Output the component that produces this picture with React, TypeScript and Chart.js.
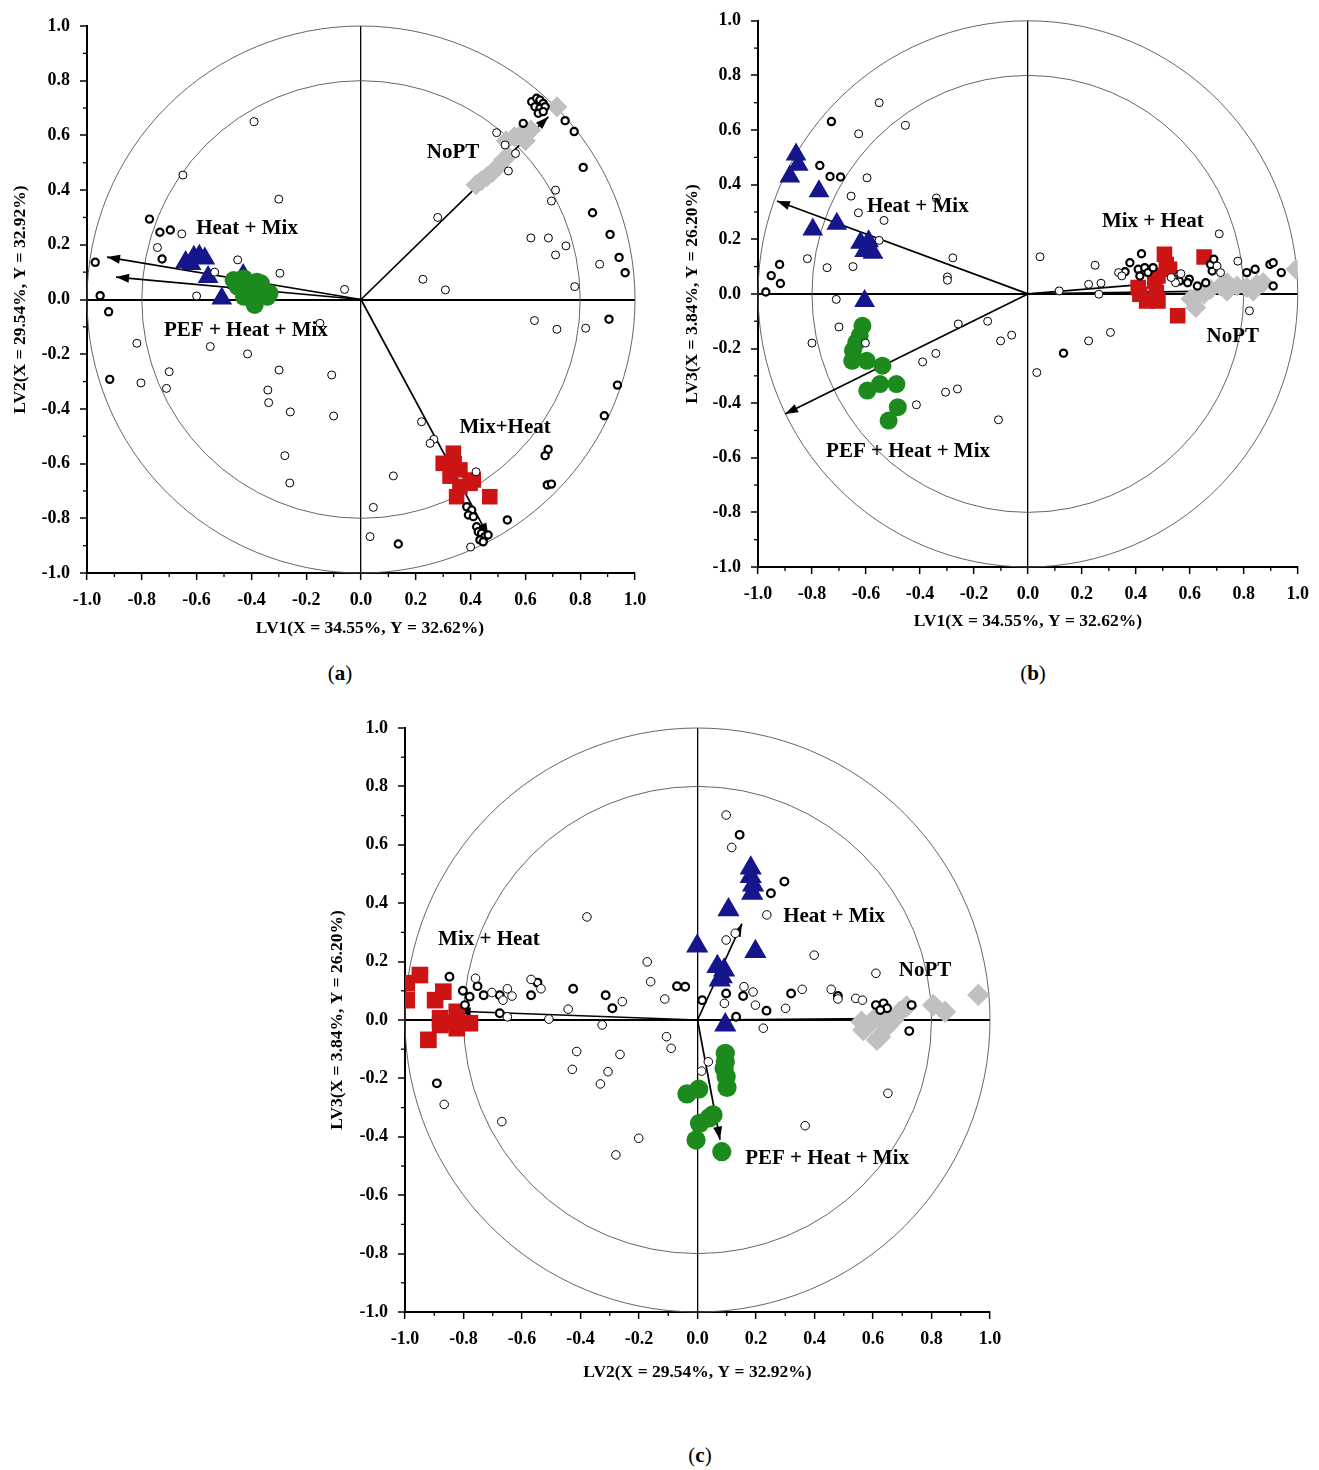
import React, { useEffect, useRef } from 'react';
import { Chart, registerables } from 'chart.js';

Chart.register(...registerables);

type P = [number, number];
type Lbl = [string, number, number];

const FONT = '"Liberation Serif", "Times New Roman", serif';

// ---------- Panel (a): LV1 vs LV2 ----------
const A_OPEN: P[] = [[-0.39,0.65],[-0.65,0.455],[-0.30,0.367],[-0.654,0.24],[-0.743,0.19],[-0.45,0.145],[-0.534,0.10],[-0.296,0.096],[-0.06,0.037],[-0.60,0.013],[0.28,0.30],[0.226,0.074],[0.308,0.035],[0.495,0.61],[0.526,0.565],[0.564,0.534],[0.538,0.47],[0.71,0.40],[0.695,0.36],[0.62,0.225],[0.684,0.225],[0.748,0.196],[0.71,0.163],[0.871,0.129],[0.78,0.047],[0.633,-0.077],[0.715,-0.109],[0.82,-0.105],[-0.15,-0.087],[-0.818,-0.16],[-0.55,-0.172],[-0.414,-0.199],[-0.70,-0.264],[-0.803,-0.305],[-0.71,-0.325],[-0.299,-0.258],[-0.107,-0.276],[-0.34,-0.331],[-0.337,-0.377],[-0.258,-0.411],[-0.10,-0.426],[-0.278,-0.571],[-0.26,-0.671],[0.221,-0.447],[0.266,-0.511],[0.252,-0.526],[0.118,-0.645],[0.42,-0.63],[0.045,-0.76],[0.033,-0.867],[0.40,-0.905]];
const A_BOLD: P[] = [[-0.772,0.294],[-0.734,0.246],[-0.696,0.254],[-0.726,0.148],[-0.97,0.136],[-0.952,0.014],[-0.921,-0.045],[-0.917,-0.292],[0.623,0.723],[0.641,0.736],[0.653,0.729],[0.665,0.717],[0.635,0.705],[0.653,0.699],[0.672,0.705],[0.647,0.681],[0.665,0.687],[0.592,0.644],[0.745,0.654],[0.778,0.614],[0.811,0.483],[0.845,0.317],[0.909,0.238],[0.942,0.154],[0.964,0.098],[0.905,-0.072],[0.936,-0.313],[0.888,-0.425],[0.683,-0.548],[0.672,-0.571],[0.68,-0.678],[0.695,-0.675],[0.534,-0.806],[0.136,-0.894],[0.386,-0.758],[0.404,-0.77],[0.392,-0.788],[0.41,-0.794],[0.422,-0.831],[0.428,-0.849],[0.44,-0.855],[0.452,-0.867],[0.464,-0.861],[0.434,-0.879],[0.446,-0.886]];
const A_HEATMIX: P[] = [[-0.64,0.137],[-0.61,0.156],[-0.59,0.16],[-0.57,0.15],[-0.62,0.13],[-0.558,0.082],[-0.508,0.004],[-0.43,0.09],[-0.45,0.06]];
const A_PEF: P[] = [[-0.465,0.071],[-0.427,0.077],[-0.38,0.065],[-0.365,0.059],[-0.398,0.023],[-0.357,0.035],[-0.342,0.01],[-0.388,-0.02],[-0.427,0.01],[-0.45,0.047],[-0.334,0.023],[-0.40,0.045]];
const A_NOPT: P[] = [[0.42,0.42],[0.44,0.435],[0.46,0.45],[0.48,0.465],[0.50,0.485],[0.52,0.51],[0.535,0.525],[0.53,0.58],[0.56,0.595],[0.58,0.60],[0.60,0.615],[0.62,0.62],[0.60,0.58],[0.715,0.705]];
const A_MIXHEAT: P[] = [[0.337,-0.562],[0.30,-0.599],[0.361,-0.623],[0.325,-0.646],[0.398,-0.672],[0.361,-0.684],[0.349,-0.721],[0.41,-0.66],[0.47,-0.721],[0.34,-0.60]];
const A_ARROWS: P[] = [[-0.927,0.155],[-0.894,0.082],[0.684,0.668],[0.465,-0.865]];
const A_LABELS: Lbl[] = [['Heat + Mix',-0.416,0.261],['NoPT',0.336,0.539],['PEF + Heat + Mix',-0.42,-0.115],['Mix+Heat',0.526,-0.47]];

// ---------- Panel (b): LV1 vs LV3 ----------
const B_OPEN: P[] = [[-0.551,0.70],[-0.454,0.617],[-0.627,0.586],[-0.596,0.425],[-0.655,0.358],[-0.628,0.297],[-0.533,0.269],[-0.339,0.351],[-0.551,0.196],[-0.817,0.129],[-0.744,0.096],[-0.648,0.10],[-0.278,0.132],[-0.298,0.062],[-0.298,0.05],[-0.71,-0.02],[-0.70,-0.121],[-0.80,-0.18],[-0.602,-0.18],[-0.258,-0.11],[-0.149,-0.10],[-0.101,-0.172],[-0.06,-0.151],[-0.341,-0.218],[-0.39,-0.249],[-0.305,-0.36],[-0.261,-0.348],[-0.413,-0.406],[-0.109,-0.461],[0.033,-0.288],[0.225,-0.172],[0.306,-0.141],[0.045,0.136],[0.116,0.011],[0.225,0.035],[0.271,0.039],[0.249,0.105],[0.263,-0.001],[0.336,0.078],[0.348,0.066],[0.709,0.22],[0.778,0.12],[0.821,-0.062],[0.563,0.072],[0.547,0.041],[0.701,0.102],[0.531,0.06],[0.567,0.074],[0.714,0.078]];
const B_BOLD: P[] = [[-0.728,0.631],[-0.771,0.47],[-0.733,0.43],[-0.694,0.428],[-0.92,0.108],[-0.951,0.067],[-0.917,0.038],[-0.971,0.007],[0.132,-0.217],[0.421,0.147],[0.378,0.114],[0.36,0.081],[0.409,0.09],[0.433,0.096],[0.445,0.078],[0.415,0.066],[0.464,0.096],[0.561,0.047],[0.598,0.054],[0.592,0.041],[0.628,0.029],[0.683,0.084],[0.677,0.108],[0.689,0.127],[0.811,0.078],[0.842,0.09],[0.897,0.108],[0.909,0.114],[0.939,0.078],[0.909,0.029],[0.659,0.041]];
const B_HEATMIX: P[] = [[-0.859,0.51],[-0.851,0.473],[-0.882,0.43],[-0.774,0.376],[-0.797,0.236],[-0.708,0.257],[-0.62,0.187],[-0.59,0.193],[-0.605,0.157],[-0.574,0.151],[-0.605,-0.026]];
const B_PEF: P[] = [[-0.613,-0.117],[-0.623,-0.153],[-0.636,-0.178],[-0.648,-0.208],[-0.651,-0.245],[-0.597,-0.245],[-0.539,-0.263],[-0.595,-0.354],[-0.548,-0.33],[-0.487,-0.33],[-0.482,-0.415],[-0.516,-0.464]];
const B_NOPT: P[] = [[0.604,-0.019],[0.628,-0.007],[0.653,0.0],[0.677,0.017],[0.714,0.029],[0.738,0.041],[0.775,0.029],[0.811,0.023],[0.848,0.035],[0.872,0.041],[0.622,-0.05],[0.835,0.011],[0.738,0.01],[0.994,0.09]];
const B_MIXHEAT: P[] = [[0.506,0.145],[0.513,0.108],[0.525,0.09],[0.482,0.066],[0.47,0.047],[0.409,0.023],[0.415,-0.001],[0.44,-0.026],[0.482,-0.026],[0.476,0.005],[0.653,0.135],[0.555,-0.08]];
const B_ARROWS: P[] = [[-0.93,0.34],[-0.90,-0.44],[0.43,0.035],[0.68,0.01]];
const B_LABELS: Lbl[] = [['Heat + Mix',-0.408,0.321],['Mix + Heat',0.463,0.266],['NoPT',0.759,-0.157],['PEF + Heat + Mix',-0.444,-0.577]];

// ---------- Panel (c): LV2 vs LV3 ----------
const C_OPEN: P[] = [[0.098,0.702],[0.117,0.591],[-0.378,0.353],[0.237,0.36],[0.098,0.274],[0.129,0.297],[0.399,0.222],[-0.172,0.199],[-0.16,0.131],[-0.112,0.072],[0.61,0.16],[-0.759,0.143],[-0.703,0.094],[-0.65,0.107],[-0.665,0.068],[-0.634,0.082],[-0.569,0.139],[-0.535,0.107],[-0.442,0.037],[-0.508,0.003],[-0.326,-0.017],[-0.257,0.063],[0.092,0.057],[0.19,0.096],[0.159,0.114],[0.198,0.051],[0.225,-0.028],[0.301,0.04],[0.358,0.105],[0.457,0.105],[0.48,0.072],[0.541,0.074],[0.564,0.068],[-0.65,0.011],[-0.413,-0.108],[-0.265,-0.118],[-0.428,-0.169],[-0.306,-0.177],[-0.332,-0.219],[-0.106,-0.057],[-0.09,-0.097],[0.037,-0.143],[0.014,-0.175],[-0.866,-0.289],[-0.669,-0.348],[-0.201,-0.405],[-0.279,-0.462],[0.651,-0.251],[0.368,-0.362]];
const C_BOLD: P[] = [[0.144,0.634],[0.251,0.434],[0.297,0.474],[-0.848,0.148],[-0.752,0.116],[-0.802,0.1],[-0.779,0.08],[-0.731,0.085],[-0.795,0.051],[-0.676,0.085],[-0.676,0.023],[-0.569,0.085],[-0.547,0.128],[-0.425,0.107],[-0.314,0.085],[-0.291,0.04],[-0.07,0.116],[-0.042,0.114],[0.016,0.068],[0.098,0.091],[0.156,0.082],[0.132,0.011],[0.236,0.032],[0.32,0.091],[0.48,0.082],[0.61,0.051],[0.636,0.057],[0.648,0.04],[0.625,0.034],[0.732,0.051],[0.724,-0.038],[-0.891,-0.217]];
const C_HEATMIX: P[] = [[0.182,0.52],[0.182,0.491],[0.19,0.462],[0.187,0.434],[0.106,0.377],[-0.001,0.253],[0.068,0.183],[0.091,0.171],[0.083,0.148],[0.076,0.137],[0.198,0.234],[0.095,-0.017]];
const C_PEF: P[] = [[0.095,-0.114],[0.095,-0.143],[0.091,-0.166],[0.098,-0.194],[0.101,-0.231],[-0.036,-0.253],[0.004,-0.237],[0.053,-0.325],[0.007,-0.354],[-0.005,-0.411],[0.083,-0.451],[0.04,-0.335]];
const C_NOPT: P[] = [[0.567,-0.034],[0.601,0.0],[0.624,-0.057],[0.647,-0.023],[0.669,0.0],[0.692,0.028],[0.715,0.046],[0.647,0.017],[0.806,0.051],[0.846,0.028],[0.96,0.086],[0.561,-0.006],[0.613,-0.068]];
const C_MIXHEAT: P[] = [[-0.994,0.126],[-0.949,0.154],[-0.994,0.068],[-0.897,0.068],[-0.869,0.097],[-0.88,0.006],[-0.823,0.028],[-0.88,-0.017],[-0.823,-0.028],[-0.778,-0.011],[-0.92,-0.068],[-0.846,-0.01]];
const C_ARROWS: P[] = [[-0.82,0.03],[0.152,0.33],[0.077,-0.41],[0.6,0.005]];
const C_LABELS: Lbl[] = [['Mix + Heat',-0.713,0.277],['Heat + Mix',0.467,0.353],['NoPT',0.778,0.168],['PEF + Heat + Mix',0.443,-0.476]];

const CIRCLE_RADII = [1, 0.8];

interface Panel {
  open: P[]; bold: P[]; heatMix: P[]; pef: P[]; nopt: P[]; mixHeat: P[];
  arrows: P[]; labels: Lbl[];
  xTitle: string; yTitle: string;
  left: number; top: number; w: number; h: number;
  area: { l: number; t: number; r: number; b: number };
  xTitleOff: number; xTitleDx: number; yTitleX: number; k: number;
}

const PANELS: Panel[] = [
  { open: A_OPEN, bold: A_BOLD, heatMix: A_HEATMIX, pef: A_PEF, nopt: A_NOPT, mixHeat: A_MIXHEAT, arrows: A_ARROWS, labels: A_LABELS,
    xTitle: 'LV1(X = 34.55%, Y = 32.62%)', yTitle: 'LV2(X = 29.54%, Y = 32.92%)',
    left: 0, top: 0, w: 660, h: 650, area: { l: 87, t: 26, r: 635, b: 573 }, xTitleOff: 55, xTitleDx: 9, yTitleX: 20, k: 1 },
  { open: B_OPEN, bold: B_BOLD, heatMix: B_HEATMIX, pef: B_PEF, nopt: B_NOPT, mixHeat: B_MIXHEAT, arrows: B_ARROWS, labels: B_LABELS,
    xTitle: 'LV1(X = 34.55%, Y = 32.62%)', yTitle: 'LV3(X = 3.84%, Y = 26.20%)',
    left: 660, top: 0, w: 659, h: 650, area: { l: 98, t: 19, r: 645, b: 567 }, xTitleOff: 54, xTitleDx: 0, yTitleX: 32, k: 1 },
  { open: C_OPEN, bold: C_BOLD, heatMix: C_HEATMIX, pef: C_PEF, nopt: C_NOPT, mixHeat: C_MIXHEAT, arrows: C_ARROWS, labels: C_LABELS,
    xTitle: 'LV2(X = 29.54%, Y = 32.92%)', yTitle: 'LV3(X = 3.84%, Y = 26.20%)',
    left: 320, top: 700, w: 700, h: 700, area: { l: 85, t: 28, r: 670, b: 612 }, xTitleOff: 60, xTitleDx: 0, yTitleX: 17, k: 1.07 },
];

const pts = (a: P[]) => a.map(([x, y]) => ({ x, y }));

function markerSet(data: P[], style: string, r: number, fill: string, stroke: string, bw: number, order: number) {
  return {
    data: pts(data), pointStyle: style, pointRadius: r, pointHoverRadius: r,
    pointBackgroundColor: fill, pointBorderColor: stroke, pointBorderWidth: bw,
    showLine: false, order,
  };
}

function makeScale(p: Panel, isX: boolean) {
  return {
    type: 'linear', min: -1, max: 1,
    afterFit: (s: any) => { if (isX) s.height = p.h - p.area.b; else s.width = p.area.l; },
    ticks: {
      stepSize: 0.1, autoSkip: false, maxRotation: 0, minRotation: 0, padding: isX ? 10 : 10, color: '#000',
      font: { family: FONT, size: 18, weight: 'bold' },
      callback: (v: any) => { const k = Math.round(Number(v) * 10); return k % 2 === 0 ? (k / 10).toFixed(1) : ''; },
    },
    grid: {
      drawOnChartArea: true, drawTicks: true, tickLength: 7, tickWidth: 1.5,
      color: (c: any) => (c.tick && Math.abs(c.tick.value) < 1e-6 ? '#000' : 'rgba(0,0,0,0)'),
      tickColor: (c: any) => (c.tick && Math.round(c.tick.value * 10) % 2 === 0 ? '#000' : 'rgba(0,0,0,0)'),
      lineWidth: isX ? 1.3 : 2,
    },
    border: { display: true, color: '#000', width: 2 },
  };
}

function makeConfig(p: Panel): any {
  const k = p.k;
  const arrowSets = p.arrows.map((t) => ({
    data: [{ x: 0, y: 0 }, { x: t[0], y: t[1] }], showLine: true, borderColor: '#000', borderWidth: 1.7,
    pointRadius: 0, pointHoverRadius: 0, isArrow: true, order: 9,
  }));
  const datasets = [
    markerSet(p.open, 'circle', 4 * k, '#fff', '#000', 1, 1),
    markerSet(p.bold, 'circle', 3.6 * k, '#fff', '#000', 2.2, 2),
    markerSet(p.nopt, 'rectRot', 10.5 * k, '#c0c0c0', '#c0c0c0', 0, 3),
    markerSet(p.mixHeat, 'rect', 11 * k, '#cc1414', '#cc1414', 0, 4),
    markerSet(p.pef, 'circle', 9 * k, '#1d8a1d', '#1d8a1d', 0, 5),
    markerSet(p.heatMix, 'triangle', 12 * k, '#15158c', '#15158c', 0, 6),
    ...arrowSets,
  ];

  const decor = {
    id: 'decor',
    beforeDatasetsDraw(chart: any) {
      const { ctx, scales } = chart;
      const xs = scales.x, ys = scales.y;
      const cx = xs.getPixelForValue(0), cy = ys.getPixelForValue(0);
      ctx.save();
      ctx.strokeStyle = '#555';
      ctx.lineWidth = 0.9;
      CIRCLE_RADII.forEach((r) => {
        const rx = xs.getPixelForValue(r) - cx;
        const ry = cy - ys.getPixelForValue(r);
        ctx.beginPath();
        ctx.ellipse(cx, cy, rx, ry, 0, 0, Math.PI * 2);
        ctx.stroke();
      });
      ctx.strokeStyle = '#000';
      ctx.lineWidth = 1.3;
      const ca = chart.chartArea;
      for (let i = -9; i <= 9; i += 2) {
        const px = xs.getPixelForValue(i / 10);
        ctx.beginPath(); ctx.moveTo(px, ca.bottom); ctx.lineTo(px, ca.bottom + 4); ctx.stroke();
        const py = ys.getPixelForValue(i / 10);
        ctx.beginPath(); ctx.moveTo(ca.left - 4, py); ctx.lineTo(ca.left, py); ctx.stroke();
      }
      ctx.restore();
    },
    afterDatasetDraw(chart: any, args: any) {
      const ds = chart.data.datasets[args.index];
      if (!ds.isArrow) return;
      const [a, b] = args.meta.data;
      const ang = Math.atan2(b.y - a.y, b.x - a.x);
      const L = 13, W = 4.5;
      const ctx = chart.ctx;
      ctx.save();
      ctx.fillStyle = '#000';
      ctx.beginPath();
      ctx.moveTo(b.x, b.y);
      ctx.lineTo(b.x - L * Math.cos(ang) + W * Math.sin(ang), b.y - L * Math.sin(ang) - W * Math.cos(ang));
      ctx.lineTo(b.x - L * Math.cos(ang) - W * Math.sin(ang), b.y - L * Math.sin(ang) + W * Math.cos(ang));
      ctx.closePath();
      ctx.fill();
      ctx.restore();
    },
    afterDraw(chart: any) {
      const { ctx, scales, chartArea: ca } = chart;
      ctx.save();
      ctx.fillStyle = '#000';
      ctx.textAlign = 'center';
      ctx.textBaseline = 'middle';
      ctx.font = `bold 21px ${FONT}`;
      p.labels.forEach(([t, x, y]) => {
        ctx.fillText(t, scales.x.getPixelForValue(x), scales.y.getPixelForValue(y));
      });
      ctx.font = `bold 17.5px ${FONT}`;
      ctx.fillText(p.xTitle, (ca.left + ca.right) / 2 + p.xTitleDx, ca.bottom + p.xTitleOff);
      ctx.translate(p.yTitleX, (ca.top + ca.bottom) / 2);
      ctx.rotate(-Math.PI / 2);
      ctx.fillText(p.yTitle, 0, 0);
      ctx.restore();
    },
  };

  return {
    type: 'scatter',
    data: { datasets },
    options: {
      responsive: false,
      animation: false,
      events: [],
      layout: { padding: { left: 0, top: p.area.t, right: p.w - p.area.r, bottom: 0 } },
      plugins: { legend: { display: false }, tooltip: { enabled: false }, title: { display: false } },
      scales: { x: makeScale(p, true), y: makeScale(p, false) },
    },
    plugins: [decor],
  };
}

function PanelChart({ p }: { p: Panel }) {
  const ref = useRef<HTMLCanvasElement | null>(null);
  useEffect(() => {
    if (!ref.current) return;
    const chart = new Chart(ref.current, makeConfig(p));
    return () => chart.destroy();
  }, [p]);
  return (
    <canvas ref={ref} width={p.w} height={p.h}
      style={{ position: 'absolute', left: p.left, top: p.top, width: p.w, height: p.h, display: 'block' }} />
  );
}

const CAPTIONS: [string, number, number][] = [['a', 340, 673], ['b', 1033, 673], ['c', 700, 1455]];

export default function App() {
  return (
    <div style={{ position: 'absolute', left: 0, top: 0, width: 1319, height: 1470, background: '#fff', overflow: 'hidden' }}>
      {PANELS.map((p, i) => <PanelChart key={i} p={p} />)}
      {CAPTIONS.map(([t, x, y]) => (
        <div key={t} style={{ position: 'absolute', left: x - 30, top: y - 13, width: 60, textAlign: 'center',
          fontFamily: FONT, fontSize: 21, lineHeight: '26px', color: '#000' }}>
          (<b>{t}</b>)
        </div>
      ))}
    </div>
  );
}
